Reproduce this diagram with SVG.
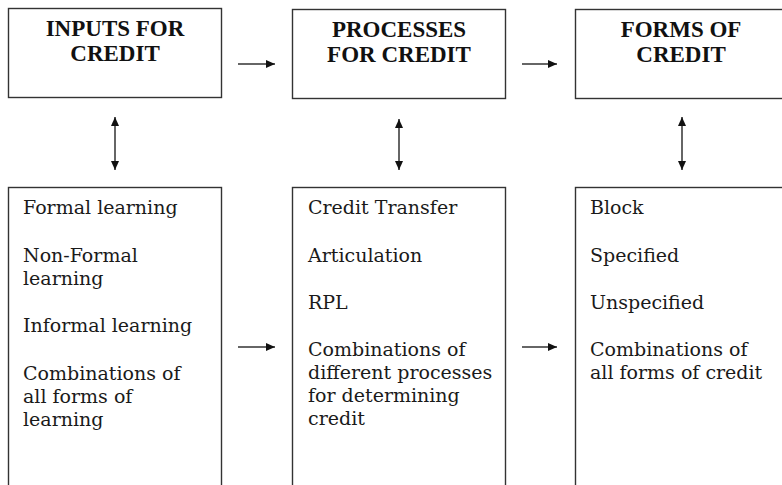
<svg xmlns="http://www.w3.org/2000/svg" width="782" height="485" viewBox="0 0 782 485">
<style>
.box{fill:#fff;stroke:#333;stroke-width:1.4}
.title{font-family:"Liberation Serif","Times New Roman",serif;font-weight:bold;font-size:23px;fill:#111;text-anchor:middle}
.body{font-family:"DejaVu Serif","Liberation Serif",serif;font-size:19px;fill:#1a1a1a}
.conn{stroke:#333;stroke-width:1.5;fill:none}
</style>
<defs>
<marker id="ah" markerUnits="userSpaceOnUse" markerWidth="10" markerHeight="10" refX="9" refY="5" orient="auto-start-reverse">
<path d="M0,1 L9,5 L0,9 Z" fill="#111"/>
</marker>
</defs>
<rect width="782" height="485" fill="#fff"/>
<g id="inputs-title">
<rect class="box" x="8.5" y="8.5" width="213" height="89"/>
<text class="title" x="115" y="36">INPUTS FOR</text>
<text class="title" x="115" y="61">CREDIT</text>
</g>
<g id="processes-title">
<rect class="box" x="292.5" y="9.5" width="213" height="89"/>
<text class="title" x="399" y="37">PROCESSES</text>
<text class="title" x="399" y="62">FOR CREDIT</text>
</g>
<g id="forms-title">
<rect class="box" x="575.5" y="9.5" width="213" height="89"/>
<text class="title" x="681" y="37">FORMS OF</text>
<text class="title" x="681" y="62">CREDIT</text>
</g>
<g id="inputs-list">
<rect class="box" x="8.5" y="187.5" width="213" height="310"/>
<text class="body" x="23" y="214">Formal learning</text>
<text class="body" x="23" y="262">Non-Formal</text>
<text class="body" x="23" y="285">learning</text>
<text class="body" x="23" y="332">Informal learning</text>
<text class="body" x="23" y="380">Combinations of</text>
<text class="body" x="23" y="403">all forms of</text>
<text class="body" x="23" y="426">learning</text>
</g>
<g id="processes-list">
<rect class="box" x="292.5" y="187.5" width="213" height="310"/>
<text class="body" x="308" y="214">Credit Transfer</text>
<text class="body" x="308" y="262">Articulation</text>
<text class="body" x="308" y="309">RPL</text>
<text class="body" x="308" y="356">Combinations of</text>
<text class="body" x="308" y="379">different processes</text>
<text class="body" x="308" y="402">for determining</text>
<text class="body" x="308" y="425">credit</text>
</g>
<g id="forms-list">
<rect class="box" x="575.5" y="187.5" width="213" height="310"/>
<text class="body" x="590" y="214">Block</text>
<text class="body" x="590" y="262">Specified</text>
<text class="body" x="590" y="309">Unspecified</text>
<text class="body" x="590" y="356">Combinations of</text>
<text class="body" x="590" y="379">all forms of credit</text>
</g>
<g id="connectors">
<line class="conn" x1="238" y1="64" x2="275" y2="64" marker-end="url(#ah)"/>
<line class="conn" x1="522" y1="64" x2="557" y2="64" marker-end="url(#ah)"/>
<line class="conn" x1="238" y1="347" x2="275" y2="347" marker-end="url(#ah)"/>
<line class="conn" x1="522" y1="347" x2="557" y2="347" marker-end="url(#ah)"/>
<line class="conn" x1="115" y1="117" x2="115" y2="170" marker-start="url(#ah)" marker-end="url(#ah)"/>
<line class="conn" x1="399" y1="119" x2="399" y2="170" marker-start="url(#ah)" marker-end="url(#ah)"/>
<line class="conn" x1="682" y1="117" x2="682" y2="170" marker-start="url(#ah)" marker-end="url(#ah)"/>
</g>
</svg>
